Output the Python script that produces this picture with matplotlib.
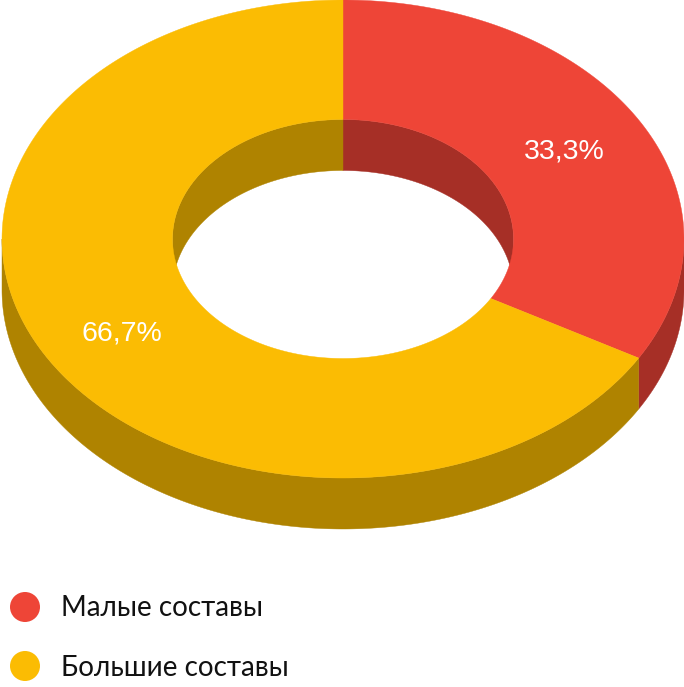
#!/usr/bin/env python3
import numpy as np
import matplotlib
matplotlib.use('Agg')
import matplotlib.pyplot as plt
from matplotlib.patches import Circle

labels = ['Малые составы', 'Большие составы']
shares = [33.3, 66.7]
share_labels = ['33,3%', '66,7%']
colors = ['#EE4537', '#FBBC03']
dark_colors = ['#A62F26', '#AF8300']

WIDTH, HEIGHT = 684, 687
CX, CY = 343, 239
RX, RY = 341, 239
HOLE = 0.5
DEPTH = 51


def ellipse(t, scale=1.0, drop=0.0):
    """t in degrees, clockwise from the top of the ring"""
    t = np.radians(t)
    return CX + RX * scale * np.sin(t), CY - RY * scale * np.cos(t) + drop


def arc(start, end):
    return np.linspace(start, end, max(int(abs(end - start)) * 2, 2))


def fill_band(ax, t, color, scale_a, drop_a, scale_b, drop_b):
    xa, ya = ellipse(t, scale_a, drop_a)
    xb, yb = ellipse(t[::-1], scale_b, drop_b)
    ax.fill(np.r_[xa, xb], np.r_[ya, yb], color=color, lw=0.3, ec=color)


fig = plt.figure(figsize=(WIDTH / 100, HEIGHT / 100), dpi=100)
ax = fig.add_axes([0, 0, 1, 1])
ax.set_xlim(0, WIDTH)
ax.set_ylim(HEIGHT, 0)
ax.axis('off')

edges = np.r_[0, np.cumsum(shares)] / sum(shares) * 360

# Walls first, the top of the ring covers whatever sticks out
for i in range(len(shares)):
    # outer wall is seen on the lower half of the ellipse
    lo, hi = max(edges[i], 90), min(edges[i + 1], 270)
    if lo < hi:
        t = arc(lo, hi)
        fill_band(ax, t, dark_colors[i], 1, 0, 1, DEPTH)
    # inner wall is seen on the upper half
    for lo, hi in ((edges[i], min(edges[i + 1], 90)),
                   (max(edges[i], 270), edges[i + 1])):
        if lo < hi:
            t = arc(lo, hi)
            fill_band(ax, t, dark_colors[i], HOLE, 0, HOLE, DEPTH)

for i in range(len(shares)):
    t = arc(edges[i], edges[i + 1])
    fill_band(ax, t, colors[i], 1, 0, HOLE, 0)

ax.text(564.5, 152, share_labels[0], color='white', fontsize=20.5,
        family='Liberation Sans', ha='center', va='center')
ax.text(121.5, 333, share_labels[1], color='white', fontsize=20.5,
        family='Liberation Sans', ha='center', va='center')

for i, y in enumerate((608, 668)):
    ax.add_patch(Circle((25, y - 1 - i), 15, color=colors[i], lw=0))
    ax.text(61, y + 0.5, labels[i], color='#111111', fontsize=20.1,
            family='Lato', ha='left', va='center')

fig.savefig('out.png', dpi=100)
plt.close(fig)
